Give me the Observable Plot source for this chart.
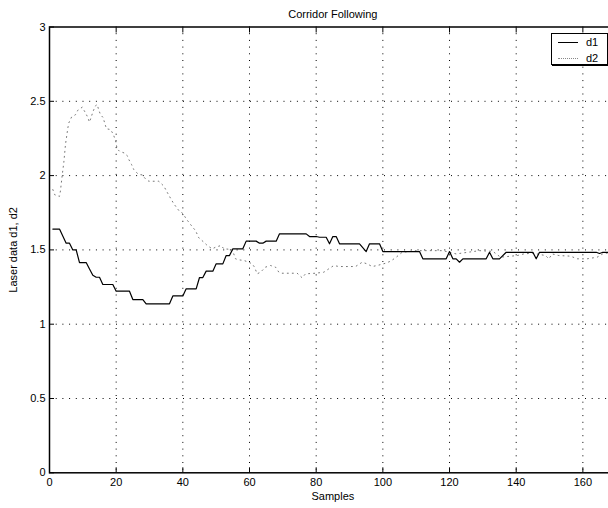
<!DOCTYPE html>
<html><head><meta charset="utf-8">
<script src="https://cdn.jsdelivr.net/npm/d3@7"></script>
<script src="https://cdn.jsdelivr.net/npm/@observablehq/plot@0.6"></script>
<style>
html,body{margin:0;padding:0;background:#fff;overflow:hidden;width:608px;height:508px}
#wrap{position:relative;width:608px;height:508px;overflow:hidden}
#wrap svg{overflow:hidden}
#legend{position:absolute;left:551px;top:33px;width:55px;height:30px;border:1px solid #000;box-shadow:1px 1px 0 #000;background:#fff;font:11px "Liberation Sans",Arial,sans-serif;color:#000}
.row{position:absolute;left:0;width:55px;height:14px}
.sw{position:absolute;left:6px;width:20px;top:7px;height:0}
.lab{position:absolute;left:34px;top:0px;line-height:14px}
</style></head><body><div id="wrap"><div id="legend">
<div class="row" style="top:1px"><div class="sw" style="border-top:1px solid #000"></div><span class="lab" id="l1"></span></div>
<div class="row" style="top:17px"><div class="sw" style="border-top:1px dotted #888"></div><span class="lab" id="l2"></span></div>
</div></div>
<script>
const title = "Corridor Following";
const xLabel = "Samples";
const yLabel = "Laser data d1, d2";
const seriesNames = ["d1", "d2"];
const xTicks = [0, 20, 40, 60, 80, 100, 120, 140, 160];
const yTicks = [0, 0.5, 1, 1.5, 2, 2.5, 3];
const xGrid = [20, 40, 60, 80, 100, 120, 140, 160];
const yGrid = [0.5, 1, 1.5, 2, 2.5];

const d1Samples = [1,3,5,6,7,8,9,11,12,13,14,15,16,19,20,24,25,28,29,36,37,40,41,44,45,46,47,49,50,52,53,54,55,58,59,62,63,64,65,68,69,77,78,80,81,83,84,85,86,87,93,95,96,99,100,111,112,119,120,121,122,123,124,131,132,133,135,137,145,146,147,164,165,166,170];
const d1Values  = [1.64,1.64,1.545,1.545,1.5,1.5,1.415,1.415,1.372,1.33,1.316,1.316,1.267,1.267,1.222,1.222,1.166,1.166,1.137,1.137,1.19,1.19,1.238,1.238,1.314,1.314,1.357,1.357,1.406,1.406,1.462,1.462,1.507,1.507,1.559,1.559,1.545,1.545,1.559,1.559,1.608,1.608,1.59,1.59,1.585,1.585,1.541,1.59,1.59,1.541,1.541,1.489,1.541,1.541,1.489,1.489,1.44,1.44,1.489,1.44,1.44,1.417,1.44,1.44,1.484,1.44,1.44,1.484,1.484,1.44,1.484,1.484,1.476,1.484,1.484];

const d2Samples = [1,1.6,3,3.3,3.8,4.3,4.8,5.5,5.8,6.6,7.8,8.5,9.8,10.6,11.3,12,12.6,13.1,13.8,14.3,14.8,15.3,16.1,16.6,17.1,18.3,19.1,19.8,20.3,21,22.3,23.3,23.8,24.6,25.3,26,26.8,27.8,28.8,29.8,32.8,34.3,35.3,36.3,37.3,38.8,40.1,41,41.8,42.8,43.8,44.8,46.3,47.3,48.8,49.8,51.5,52.3,54.8,55.8,56.8,58.3,59.8,60.8,61.5,62.3,63.3,64.8,66.3,67.8,68.8,69.8,74.3,75.8,76.8,79.8,82.3,83.8,85.3,86.8,91.8,93.8,95.3,96.8,98.3,100.8,102.3,103.8,105.8,110,118,122,129,133,135.3,140.3,142.3,145,148.8,149.8,150.8,152.8,156.3,158.3,161.3,164.3,166.3,170];
const d2Values  = [1.906,1.87,1.86,1.9,2.0,2.09,2.21,2.32,2.355,2.393,2.41,2.44,2.46,2.43,2.4,2.36,2.4,2.434,2.47,2.478,2.44,2.41,2.39,2.35,2.315,2.31,2.28,2.236,2.18,2.164,2.153,2.135,2.108,2.075,2.04,2.023,2.007,2.005,1.978,1.962,1.962,1.929,1.888,1.848,1.81,1.765,1.743,1.709,1.686,1.657,1.63,1.581,1.552,1.53,1.507,1.518,1.53,1.507,1.503,1.44,1.433,1.429,1.417,1.406,1.384,1.339,1.35,1.384,1.395,1.384,1.35,1.343,1.343,1.312,1.339,1.343,1.35,1.373,1.395,1.388,1.388,1.417,1.406,1.388,1.395,1.41,1.424,1.447,1.484,1.495,1.495,1.473,1.495,1.49,1.451,1.462,1.473,1.478,1.462,1.44,1.473,1.462,1.458,1.44,1.44,1.451,1.478,1.478];

const d1 = d1Samples.map((s, i) => ({s, v: d1Values[i]}));
const d2 = d2Samples.map((s, i) => ({s, v: d2Values[i]}));

const font = '"Liberation Sans", Arial, Helvetica, sans-serif';

const chart = Plot.plot({
  width: 608,
  height: 508,
  marginLeft: 49,
  marginRight: -7.7,
  marginTop: 26.5,
  marginBottom: 35.7,
  style: {fontFamily: font, fontSize: "11px", color: "#000", background: "#fff", overflow: "hidden"},
  x: {domain: [0, 170]},
  y: {domain: [0, 3]},
  marks: [
    Plot.ruleX(xGrid, {stroke: "#000", strokeWidth: 1, strokeDasharray: "1,5.7"}),
    Plot.ruleY(yGrid, {stroke: "#000", strokeWidth: 1, strokeDasharray: "1,5.7"}),
    Plot.line(d2, {x: "s", y: "v", stroke: "#777", strokeWidth: 1, strokeDasharray: "1,4"}),
    Plot.line(d1, {x: "s", y: "v", stroke: "#000", strokeWidth: 1.2}),
    Plot.axisX({ticks: xTicks, tickSize: -5, tickPadding: 10, tickFormat: d => String(d), label: xLabel, labelAnchor: "center", labelArrow: "none", labelOffset: 27, fontSize: 11}),
    Plot.axisX({anchor: "top", ticks: xTicks, tickSize: -5, tickFormat: () => "", label: null}),
    Plot.axisY({ticks: yTicks, tickSize: -5, tickPadding: 9, tickFormat: d => String(d), label: yLabel, labelAnchor: "center", labelArrow: "none", labelOffset: 40, fontSize: 11}),
    Plot.frame({stroke: "#000", strokeWidth: 1.5}),
    Plot.text([title], {frameAnchor: "top", dy: -17, fontSize: 11, fill: "#000"})
  ]
});
document.getElementById("wrap").prepend(chart);
document.getElementById("l1").textContent = seriesNames[0];
document.getElementById("l2").textContent = seriesNames[1];
</script></body></html>
